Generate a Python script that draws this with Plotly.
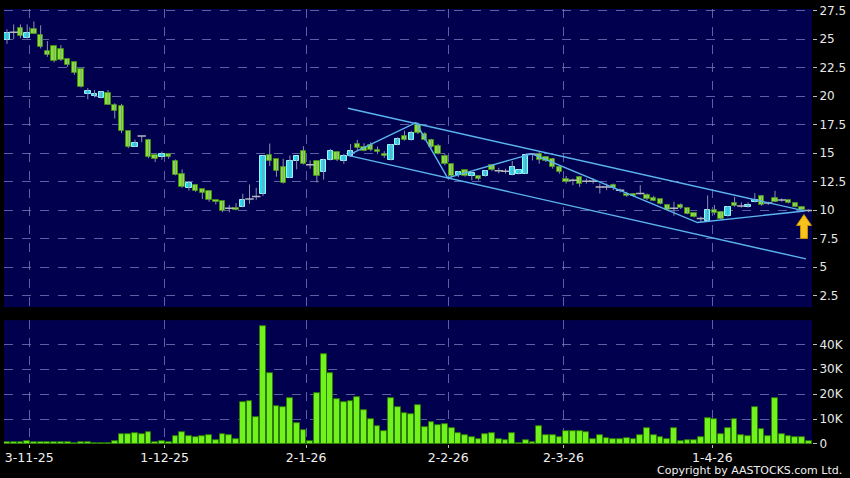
import plotly.graph_objects as go

# ---- data (index = trading day) ----
opens = [24.94, 25.61, 26.01, 25.12, 25.93, 25.41, 23.93, 24.36, 24.13, 23.23,
         22.97, 22.39, 20.16, 20.01, 19.81, 20.25, 19.20, 19.14, 16.97, 15.55,
         16.51, 16.19, 14.80, 14.68, 14.91, 14.28, 13.17, 11.98, 12.19, 11.84,
         11.67, 10.88, 10.80, 10.16, 10.19, 10.25, 10.97, 11.20, 11.38, 14.80,
         14.45, 13.75, 12.80, 14.33, 15.20, 13.98, 14.33, 13.32, 14.42, 15.14,
         14.28, 14.77, 15.78, 15.52, 15.75, 15.32, 14.97, 14.36, 15.75, 16.54,
         16.16, 17.49, 16.68, 16.16, 15.67, 14.77, 14.01, 13.06, 13.49, 12.97,
         13.00, 12.97, 13.93, 13.46, 13.41, 13.06, 13.20, 13.17, 14.90, 14.94,
         14.65, 14.51, 13.78, 12.77, 12.62, 12.91, 12.54, 12.54, 12.04, 12.04,
         12.19, 11.75, 11.46, 11.43, 11.46, 11.32, 11.06, 10.97, 10.45, 10.16,
         10.45, 10.16, 9.72, 9.26, 9.03, 10.01, 9.86, 9.48, 10.64, 10.36,
         10.30, 10.68, 11.26, 10.62, 11.06, 10.88, 10.86, 10.62, 10.29, 9.96]
highs = [25.87, 26.30, 26.30, 26.30, 26.56, 26.22, 24.83, 24.36, 24.48, 23.32,
         22.97, 22.39, 20.71, 20.54, 20.42, 20.54, 19.38, 19.32, 16.97, 16.19,
         16.51, 16.25, 14.85, 15.14, 14.97, 14.45, 13.58, 12.53, 12.25, 11.84,
         11.72, 10.88, 10.80, 10.45, 10.62, 11.43, 12.25, 11.96, 14.80, 15.84,
         14.45, 14.51, 14.80, 14.71, 15.61, 14.36, 14.33, 14.51, 15.38, 15.14,
         14.94, 15.81, 16.16, 15.87, 15.96, 15.58, 15.17, 15.81, 16.39, 16.97,
         16.97, 17.70, 16.83, 16.25, 15.81, 14.94, 14.07, 13.43, 13.55, 13.35,
         13.06, 13.49, 13.98, 13.72, 13.64, 14.31, 13.55, 14.94, 15.00, 15.09,
         14.74, 14.57, 13.93, 13.00, 12.77, 12.97, 12.77, 12.77, 12.33, 12.33,
         12.33, 11.90, 11.61, 11.46, 12.19, 11.46, 11.26, 10.97, 10.51, 10.74,
         10.59, 10.22, 9.81, 9.43, 11.29, 10.45, 9.93, 10.36, 11.17, 10.68,
         10.68, 11.49, 11.32, 10.74, 11.70, 11.03, 10.90, 10.65, 10.32, 10.07]
lows = [24.59, 25.00, 25.09, 25.06, 25.46, 24.19, 23.46, 22.97, 23.09, 22.57,
        21.87, 20.77, 19.72, 19.90, 19.81, 19.23, 18.04, 16.77, 15.43, 15.55,
        15.96, 14.56, 14.22, 14.42, 14.51, 13.06, 11.96, 11.72, 11.61, 10.97,
        10.74, 10.51, 9.81, 9.81, 9.98, 10.25, 10.57, 10.91, 11.23, 13.87,
        12.94, 12.33, 12.80, 13.58, 14.01, 13.64, 12.42, 12.68, 14.36, 14.30,
        14.07, 14.65, 15.23, 15.17, 15.17, 14.94, 14.59, 14.36, 15.70, 16.10,
        16.10, 16.68, 16.10, 15.46, 14.88, 13.93, 12.85, 12.90, 12.94, 12.62,
        12.60, 12.94, 13.43, 13.23, 13.20, 13.06, 13.14, 13.17, 14.36, 14.07,
        14.22, 13.64, 13.20, 12.33, 12.19, 12.04, 12.33, 12.33, 11.46, 11.75,
        11.75, 11.55, 11.17, 11.17, 11.38, 10.88, 10.80, 10.51, 9.93, 9.52,
        10.10, 9.64, 9.35, 8.96, 9.00, 9.58, 9.14, 9.43, 10.30, 10.22,
        10.22, 10.68, 10.39, 10.45, 10.71, 10.74, 10.59, 10.25, 9.99, 9.81]
closes = [25.58, 25.61, 25.29, 25.58, 25.46, 24.30, 23.64, 23.06, 23.20, 22.74,
          22.04, 20.77, 20.45, 20.22, 20.36, 19.23, 18.68, 16.94, 15.55, 15.93,
          16.51, 14.62, 14.51, 14.97, 14.62, 13.06, 12.01, 12.39, 11.72, 11.49,
          10.85, 10.68, 9.93, 10.16, 9.98, 10.91, 10.97, 11.20, 14.71, 14.33,
          13.43, 12.42, 14.33, 14.71, 14.01, 13.98, 12.97, 14.42, 15.23, 14.36,
          14.77, 15.23, 15.46, 15.23, 15.29, 15.06, 14.71, 15.72, 16.22, 16.16,
          16.80, 16.74, 16.19, 15.58, 14.94, 14.07, 12.97, 13.32, 12.97, 13.26,
          12.71, 13.41, 13.49, 13.46, 13.41, 13.78, 13.49, 14.80, 14.90, 14.36,
          14.28, 13.78, 13.35, 12.48, 12.62, 12.27, 12.54, 12.54, 12.04, 12.04,
          11.90, 11.75, 11.26, 11.23, 11.46, 10.97, 10.80, 10.51, 9.99, 10.16,
          10.16, 9.68, 9.42, 9.26, 10.01, 9.72, 9.22, 10.30, 10.38, 10.36,
          10.45, 10.88, 10.45, 10.62, 10.72, 10.88, 10.59, 10.28, 10.01, 9.96]
volumes_k = [0.9, 0.9, 0.9, 1.2, 0.9, 0.7, 0.7, 0.9, 0.9, 0.7,
             0.5, 0.8, 0.9, 0.4, 0.4, 0.4, 1.1, 4.1, 4.1, 4.4,
             4.0, 4.7, 0.8, 1.2, 0.8, 3.2, 4.7, 3.3, 2.9, 3.2,
             3.6, 1.7, 3.8, 3.6, 2.1, 16.8, 17.2, 10.8, 47.2, 28.3,
             15.2, 14.8, 18.4, 8.4, 5.7, 1.1, 20.5, 36.0, 28.3, 18.0,
             16.6, 17.3, 18.9, 13.7, 10.0, 7.1, 5.3, 18.6, 14.7, 12.4,
             11.9, 15.5, 6.9, 8.8, 7.5, 8.1, 6.4, 4.5, 3.7, 2.8,
             2.1, 3.9, 4.5, 2.0, 1.6, 4.3, 0.2, 1.5, 0.8, 7.1,
             3.5, 3.5, 2.9, 5.1, 5.1, 5.3, 4.9, 1.9, 3.7, 2.4,
             2.1, 2.1, 2.5, 2.0, 3.6, 6.4, 3.7, 2.7, 2.1, 6.3,
             1.3, 1.6, 1.7, 2.9, 10.5, 10.0, 4.0, 6.5, 9.9, 3.5,
             3.3, 14.9, 6.1, 3.3, 18.4, 4.0, 3.3, 2.8, 2.7, 1.2]

date_tick_pos = [3.3, 23.4, 44.4, 65.5, 82.6, 104.7]
date_tick_labels = ["3-11-25", "1-12-25", "2-1-26", "2-2-26", "2-3-26", "1-4-26"]
price_ticks = [2.5, 5, 7.5, 10, 12.5, 15, 17.5, 20, 22.5, 25, 27.5]
vol_ticks = [0, 10000, 20000, 30000, 40000]
vol_tick_labels = ["0", "10K", "20K", "30K", "40K"]

# trend lines drawn on the chart (index, price)
upper_x, upper_y = [50.6, 118.4], [18.94, 9.93]
lower_x, lower_y = [50.6, 118.6], [14.80, 5.72]
zig_x = [50.6, 60.7, 65.4, 77.9, 102.5, 118.4]
zig_y = [14.80, 17.67, 12.83, 14.94, 8.91, 9.93]
arrow_x, arrow_y = 118.3, 9.62

# ---- styling ----
BG = "#00004e"
GRID = "rgba(120,130,190,0.75)"
UP_FILL, UP_LINE = "#22dcf2", "#9ff2ff"
DN_FILL, DN_LINE = "#86e42c", "#3f8a14"
WICK = "#8a92a8"
DOJI = "#b4b8c4"
VOL_FILL, VOL_LINE = "#72f21c", "#2c7a08"
TREND = "#5cb4ee"
FONT = "DejaVu Sans"

n = len(opens)
idx = list(range(n))
volumes = [v * 1000 for v in volumes_k]

up = [i for i in idx if closes[i] > opens[i]]
dn = [i for i in idx if closes[i] < opens[i]]
dj = [i for i in idx if closes[i] == opens[i]]

wx, wy = [], []
for i in idx:
    wx += [i, i, None]
    wy += [lows[i], highs[i], None]

fig = go.Figure()
fig.add_trace(go.Scatter(x=wx, y=wy, mode="lines", line=dict(color=WICK, width=1),
                         xaxis="x", yaxis="y", hoverinfo="skip"))
for group, fill, edge in [(up, UP_FILL, UP_LINE), (dn, DN_FILL, DN_LINE)]:
    fig.add_trace(go.Bar(
        x=group,
        base=[min(opens[i], closes[i]) for i in group],
        y=[abs(closes[i] - opens[i]) for i in group],
        width=0.8, marker=dict(color=fill, line=dict(color=edge, width=1)),
        xaxis="x", yaxis="y"))
fig.add_trace(go.Scatter(x=dj, y=[opens[i] for i in dj], mode="markers",
                         marker=dict(symbol="line-ew", size=6,
                                     line=dict(color=DOJI, width=1.5)),
                         xaxis="x", yaxis="y"))
for tx, ty in [(upper_x, upper_y), (lower_x, lower_y), (zig_x, zig_y)]:
    fig.add_trace(go.Scatter(x=tx, y=ty, mode="lines", line=dict(color=TREND, width=1.4),
                             xaxis="x", yaxis="y"))

fig.add_trace(go.Bar(x=idx, y=volumes, width=0.86,
                     marker=dict(color=VOL_FILL, line=dict(color=VOL_LINE, width=1)),
                     xaxis="x2", yaxis="y2"))

fig.add_shape(type="path", xref="x", yref="y", xsizemode="pixel", ysizemode="pixel",
              xanchor=arrow_x, yanchor=arrow_y,
              path="M 0,0 L 7.5,-11 L 3.5,-11 L 3.5,-24 L -3.5,-24 L -3.5,-11 L -7.5,-11 Z",
              fillcolor="#f6c21c", line=dict(color="#c99000", width=1))

xr = [-0.44, 119.49]
axis_font = dict(family=FONT, size=12, color="#e8e8e8")
fig.update_layout(
    width=850, height=478,
    margin=dict(l=4, r=36, t=5, b=34),
    paper_bgcolor="#000000", plot_bgcolor=BG,
    showlegend=False, barmode="overlay", bargap=0,
    font=dict(family=FONT, color="#e8e8e8"),
    xaxis=dict(domain=[0, 1], range=xr, anchor="y", tickvals=date_tick_pos,
               showticklabels=False, ticks="", showgrid=True, gridcolor=GRID,
               griddash="dash", gridwidth=1, zeroline=False, showline=False),
    yaxis=dict(domain=[0.3144, 1], range=[1.48, 27.65], side="right", anchor="x",
               tickvals=price_ticks, ticktext=[f"{t:g}" for t in price_ticks],
               ticks="outside", ticklen=4, tickcolor="#bbbbbb", tickfont=axis_font,
               ticklabeloverflow="allow",
               showgrid=True, gridcolor=GRID, griddash="dash", gridwidth=1,
               zeroline=False, showline=False),
    xaxis2=dict(domain=[0, 1], range=xr, anchor="y2", matches="x",
                tickvals=date_tick_pos, ticktext=date_tick_labels,
                ticks="outside", ticklen=3, tickcolor="#bbbbbb",
                tickfont=dict(family=FONT, size=12.5, color="#f0f0f0"),
                ticklabelstandoff=-1,
                showgrid=True, gridcolor=GRID, griddash="dash", gridwidth=1,
                zeroline=False, showline=False),
    yaxis2=dict(domain=[0, 0.2847], range=[0, 49700], side="right", anchor="x2",
                tickvals=vol_ticks, ticktext=vol_tick_labels,
                ticks="outside", ticklen=4, tickcolor="#bbbbbb", tickfont=axis_font,
                showgrid=True, gridcolor=GRID, griddash="dash", gridwidth=1,
                zeroline=False, showline=False),
)
fig.add_annotation(text="Copyright by AASTOCKS.com Ltd.", xref="paper", yref="paper",
                   x=1.0395, y=-0.0615, xanchor="right", yanchor="middle",
                   showarrow=False, font=dict(family=FONT, size=11, color="#f0f0f0"))

fig.write_html("out.html", config={"displayModeBar": False},
               post_script="document.body.style.margin='0';document.body.style.background='#000';")
